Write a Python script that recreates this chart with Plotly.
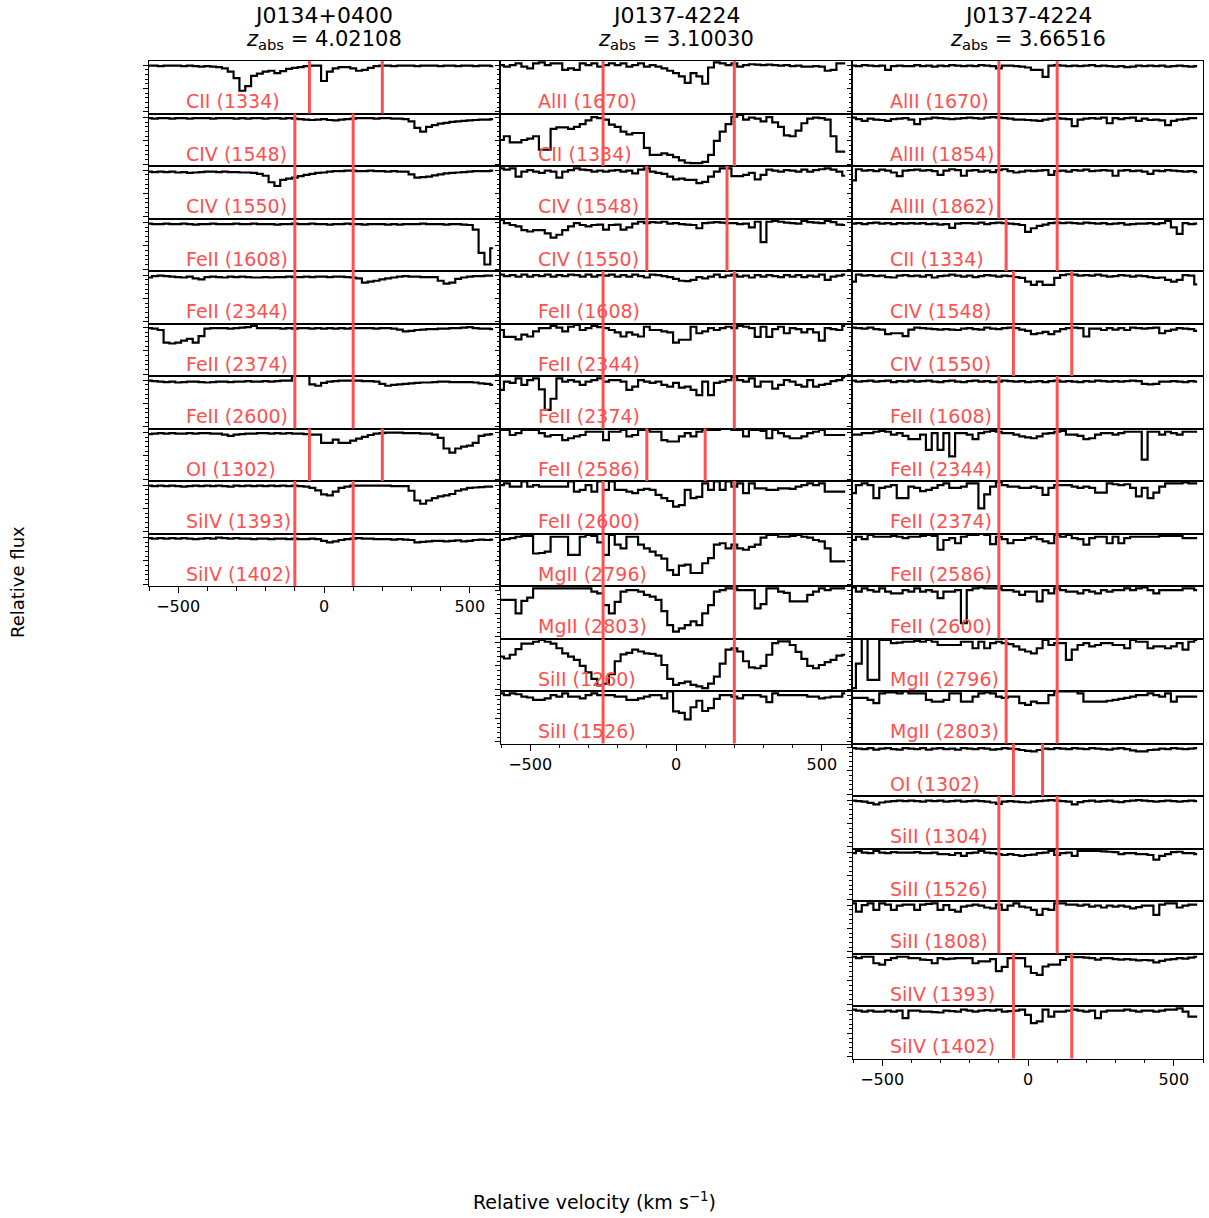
import numpy as np
import plotly.graph_objects as go

# Velocity grid of the rebinned spectra: bin centres in km/s
V_START = -600
V_STEP = 20
N_PIX = 60
velocity = V_START + V_STEP * np.arange(N_PIX)

# ---------------------------------------------------------------- J0134+0400
J0134_NAME = "J0134+0400"
J0134_Z = "4.02108"
J0134_LINES = ["CII (1334)", "CIV (1548)", "CIV (1550)", "FeII (1608)", "FeII (2344)",
               "FeII (2374)", "FeII (2600)", "OI (1302)", "SiIV (1393)", "SiIV (1402)"]
J0134_VLIM = [(-50, 200), (-100, 100), (-100, 100), (-100, 100), (-100, 100),
              (-100, 100), (-100, 100), (-50, 200), (-100, 100), (-100, 100)]
# normalised flux in percent
J0134_FLUX = [
    [99,99,98,99,99,99,98,99,98,97, 98,97,96,93,86,72,45,55,77,82, 86,88,83,87,92,94,96,98,99,99,
     66,86,93,96,96,93,88,90,94,98, 99,99,98,99,99,99,98,99,99,99, 98,99,99,98,99,99,98,99,99,98],
    [99,98,99,99,98,99,99,98,99,99, 99,98,99,99,99,98,99,98,99,99, 98,99,99,98,99,98,97,96,95,96,
     97,95,94,96,97,98,99,99,99,98, 99,99,98,98,97,92,78,70,80,84, 87,89,91,92,93,94,95,96,96,97],
    [97,96,97,96,97,95,96,94,95,96, 97,97,96,97,96,96,95,95,94,92, 88,74,66,79,82,84,87,90,92,94,
     95,97,98,98,99,99,98,98,99,98, 98,97,98,97,97,91,84,85,86,89, 91,93,94,95,96,97,98,98,98,99],
    [98,97,97,98,97,97,98,97,96,97, 97,98,97,97,97,98,97,97,98,97, 97,97,96,97,97,98,97,97,98,97,
     97,96,97,97,98,97,97,96,97,97, 97,96,97,96,97,97,97,98,97,97, 97,96,97,97,96,95,85,35,10,45],
    [95,98,99,98,97,96,95,97,93,91, 96,97,96,95,97,96,97,96,95,95, 96,95,96,96,97,96,96,97,96,97,
     97,96,97,97,96,95,93,84,86,88, 91,93,95,97,98,97,97,96,96,96, 88,82,84,92,95,97,98,98,99,99],
    [99,98,95,68,66,68,72,76,68,82, 98,99,99,99,98,99,100,101,104,99, 99,99,99,98,99,98,99,99,98,99,
     98,99,98,99,98,99,99,99,99,98, 99,99,98,96,92,93,95,96,97,97, 98,98,99,99,100,101,99,98,98,97],
    [99,98,97,96,97,95,96,97,97,96, 95,96,97,97,96,97,97,98,97,97, 98,97,98,99,99,115,120,120,91,88,
     94,97,98,99,99,99,99,98,98,97, 92,88,90,91,92,93,94,95,95,96, 97,97,96,96,96,96,95,93,92,90],
    [97,98,99,98,99,98,98,99,98,99, 99,98,98,96,93,96,97,98,98,99, 99,98,99,98,99,98,98,97,96,96,
     78,78,85,78,78,83,87,91,95,98, 99,100,100,100,99,99,99,98,98,96, 89,66,57,66,70,72,78,93,96,97],
    [99,98,99,98,99,98,97,98,99,98, 99,98,99,98,97,99,98,99,98,99, 98,99,98,99,98,99,98,97,94,89,
     80,78,86,94,97,99,99,99,99,99, 99,99,98,98,98,88,67,60,67,72, 76,78,81,88,91,94,95,96,97,97],
    [99,98,99,98,99,98,99,98,97,98, 99,98,100,99,98,99,98,98,97,98, 98,97,98,98,97,98,97,97,98,97,
     93,90,92,95,97,98,99,98,98,97, 97,97,96,97,96,95,90,91,92,93, 93,92,93,94,92,93,95,96,95,96],
]

# ---------------------------------------------------------------- J0137-4224, z = 3.10030
J0137A_NAME = "J0137-4224"
J0137A_Z = "3.10030"
J0137A_LINES = ["AlII (1670)", "CII (1334)", "CIV (1548)", "CIV (1550)", "FeII (1608)",
                "FeII (2344)", "FeII (2374)", "FeII (2586)", "FeII (2600)", "MgII (2796)",
                "MgII (2803)", "SiII (1260)", "SiII (1526)"]
J0137A_VLIM = [(-250, 200), (-250, 200), (-100, 175), (-100, 175), (-250, 200),
               (-250, 200), (-250, 200), (-100, 100), (-250, 200), (-250, 200),
               (-250, 200), (-250, 200), (-250, 200)]
J0137A_FLUX = [
    [100,97,100,104,97,93,104,106,100,104, 104,90,93,90,104,100,104,97,100,104, 100,104,97,100,104,97,100,97,93,88,
     83,76,62,83,76,60,95,106,104,100, 104,97,100,102,101,100,101,100,99,100, 98,99,97,97,98,97,88,90,104,104],
    [52,60,47,47,52,55,60,31,31,76, 79,79,76,80,86,94,101,99,96,85, 80,70,64,67,67,35,20,20,23,20,
     15,8,3,2,2,5,20,50,70,86, 102,106,96,100,98,92,101,90,80,62, 60,72,88,98,100,99,96,60,27,27],
    [104,101,104,86,97,100,97,94,99,97, 84,97,100,104,101,100,97,99,97,99, 100,97,99,93,101,104,97,94,92,86,
     80,82,79,79,72,75,86,97,104,104, 87,87,90,94,80,90,101,99,97,100, 99,97,101,97,100,102,104,101,97,88],
    [106,99,95,92,84,81,84,84,77,68, 74,84,92,99,95,92,95,96,85,95, 96,85,90,98,102,99,101,100,102,98,
     99,97,96,95,88,99,100,101,100,99, 99,97,98,90,102,58,102,104,102,100, 99,98,104,101,100,99,104,101,96,95],
    [101,98,100,97,101,97,100,98,101,97, 100,98,101,100,97,101,97,100,99,101, 97,100,97,101,98,95,101,100,98,96,
     92,88,87,90,96,93,97,101,96,99, 101,97,99,95,100,97,100,98,96,100, 97,100,96,99,97,101,90,97,99,101],
    [95,80,80,75,85,81,92,99,99,104, 100,92,102,106,95,99,104,101,99,95, 90,81,90,85,81,102,95,95,92,90,
     68,74,74,102,88,92,99,95,99,102, 99,104,102,99,80,102,80,97,102,88, 99,97,90,97,90,72,99,97,95,104],
    [79,97,94,104,90,100,104,80,36,60, 104,97,100,97,90,97,100,104,97,100, 100,97,79,86,100,97,94,97,90,86,
     94,84,86,79,68,97,68,94,97,100, 108,100,97,104,86,97,97,82,90,100, 97,90,86,100,86,90,92,98,100,106],
    [106,106,95,99,106,106,106,99,92,95, 95,84,88,92,95,102,102,102,84,102, 102,106,92,95,106,106,102,102,84,81,
     81,92,99,92,102,106,106,106,108,108, 106,106,92,106,106,104,88,106,99,92, 88,88,92,99,102,106,95,95,95,95],
    [100,104,97,97,108,97,100,97,97,97, 97,97,108,86,90,100,86,108,90,108, 90,90,86,83,90,92,90,79,72,66,
     54,57,90,72,75,104,90,108,90,108, 97,104,83,104,93,93,90,90,93,93, 92,97,100,104,100,104,86,86,86,86],
    [95,97,99,102,104,104,66,67,70,102, 102,102,63,63,102,106,104,90,63,106, 85,77,102,102,85,77,70,62,55,30,
     20,40,42,24,24,45,56,85,88,77, 85,77,74,80,85,100,106,106,102,102, 104,106,102,100,95,92,77,49,49,49],
    [79,79,79,50,77,84,104,104,104,104, 104,104,104,104,104,104,97,93,68,50, 75,97,100,100,97,90,86,79,55,25,
     11,18,25,33,25,50,68,97,100,104, 104,100,100,100,61,70,104,104,97,94, 76,76,76,90,97,104,100,104,104,104],
    [70,66,74,86,98,98,102,106,102,98, 88,77,70,63,50,36,22,8,12,32, 60,75,78,85,81,77,76,72,52,22,
     9,13,16,9,6,2,12,27,55,85, 88,81,60,47,45,50,74,99,103,103, 95,80,65,50,45,52,58,63,72,74],
    [104,100,104,102,97,95,90,90,93,100, 97,104,97,97,93,100,104,100,100,100, 97,97,90,90,93,97,100,100,93,108,
     65,62,48,74,88,66,72,92,100,100, 97,93,100,100,100,97,85,104,100,100, 100,100,100,97,97,93,95,97,97,104],
]

# ---------------------------------------------------------------- J0137-4224, z = 3.66516
J0137B_NAME = "J0137-4224"
J0137B_Z = "3.66516"
J0137B_LINES = ["AlII (1670)", "AlIII (1854)", "AlIII (1862)", "CII (1334)", "CIV (1548)",
                "CIV (1550)", "FeII (1608)", "FeII (2344)", "FeII (2374)", "FeII (2586)",
                "FeII (2600)", "MgII (2796)", "MgII (2803)", "OI (1302)", "SiII (1304)",
                "SiII (1526)", "SiII (1808)", "SiIV (1393)", "SiIV (1402)"]
J0137B_VLIM = [(-100, 100), (-100, 100), (-100, 100), (-75, 100), (-50, 150),
               (-50, 150), (-100, 100), (-100, 100), (-100, 100), (-100, 100),
               (-100, 100), (-75, 100), (-75, 100), (-50, 50), (-100, 100),
               (-100, 100), (-100, 100), (-50, 150), (-50, 150)]
J0137B_FLUX = [
    [99,98,100,99,98,99,90,98,99,98, 98,100,98,99,97,99,98,100,99,98, 99,98,100,99,98,93,99,99,98,97,
     95,90,90,75,99,100,99,98,99,98, 99,100,98,99,98,97,98,96,97,99, 98,99,98,99,97,98,99,98,97,98],
    [100,97,93,98,96,95,93,97,98,99, 96,86,97,98,100,99,98,97,98,99, 100,99,98,100,101,100,99,98,96,96,
     95,94,93,96,98,99,98,97,82,96, 98,99,98,100,88,99,97,99,100,93, 98,95,96,94,84,93,96,97,99,99],
    [78,102,99,100,98,101,99,95,87,99, 100,101,99,100,98,90,99,102,100,88, 99,100,97,99,96,100,102,98,95,97,
     99,98,99,100,90,98,99,97,100,99, 101,98,99,100,99,88,99,100,98,99, 97,92,99,98,100,99,98,97,98,96],
    [98,99,97,99,100,98,99,97,99,98, 99,98,99,97,98,96,97,89,98,99, 99,98,100,97,99,100,99,98,97,95,
     80,88,93,96,99,100,99,100,99,98, 100,99,98,99,97,98,99,96,97,98, 98,99,97,99,104,90,76,99,97,98],
    [86,101,99,100,98,99,96,95,99,100, 98,99,97,100,95,98,99,101,99,97, 99,96,98,100,99,97,99,98,96,94,
     86,79,86,79,79,94,100,102,101,99, 100,99,101,99,97,98,100,99,97,99, 98,96,94,95,90,86,90,100,99,80],
    [100,99,98,100,97,96,86,88,88,82, 96,100,99,98,97,96,97,96,95,98, 99,97,96,100,98,97,99,100,99,96,
     93,86,88,91,86,92,97,99,100,99, 81,98,98,95,99,96,99,95,100,99, 98,99,100,88,93,96,99,98,97,93],
    [99,97,98,99,97,98,99,96,98,97, 99,97,98,99,97,96,98,99,97,96, 98,99,97,98,96,97,99,98,97,98,
     96,97,98,96,98,99,97,98,97,96, 98,97,99,98,97,98,97,98,99,98, 92,91,92,97,97,98,97,96,98,97],
    [96,96,99,99,102,104,102,96,99,93, 86,86,96,63,99,63,99,49,99,99, 96,86,99,102,104,102,99,99,96,92,
     90,88,92,98,99,102,104,96,96,93, 86,88,96,99,99,96,99,102,102,102, 42,102,102,96,102,99,96,102,102,102],
    [83,100,104,100,72,94,97,100,72,72, 97,94,87,90,94,100,104,94,94,97, 104,104,50,80,97,107,100,97,97,94,
     94,97,94,79,94,100,100,100,97,94, 97,94,84,84,104,102,100,102,94,76, 94,72,84,97,104,104,104,106,104,104],
    [95,102,97,106,102,102,102,104,102,99, 102,102,104,106,104,74,95,99,88,102, 106,106,108,106,86,102,97,88,95,95,
     99,102,97,92,88,106,102,106,99,97, 85,99,102,102,88,102,88,99,102,102, 102,102,102,104,104,104,104,99,99,99],
    [106,97,104,100,97,104,97,93,93,100, 97,104,97,100,97,83,97,97,100,29, 100,104,106,104,104,104,100,100,97,90,
     97,97,76,100,93,104,100,97,97,93, 100,97,93,100,97,100,100,104,100,104, 106,100,93,100,100,100,100,104,104,100],
    [2,55,108,20,20,106,106,99,100,102, 102,104,102,106,102,95,95,95,95,102, 102,88,102,88,99,102,99,97,92,85,
     81,77,88,106,95,99,99,63,85,95, 99,92,95,99,99,95,95,88,106,102, 102,88,92,92,88,92,99,85,102,106],
    [94,94,94,90,83,104,106,106,104,108, 104,104,104,90,86,86,90,104,104,86, 86,97,104,106,104,97,94,97,97,83,
     79,86,83,83,100,108,108,108,108,104, 86,86,86,86,88,90,92,94,97,100, 100,104,100,97,104,86,97,97,97,97],
    [99,98,97,99,96,98,99,97,96,99, 98,97,99,96,98,99,97,98,96,99, 98,97,99,98,96,97,99,98,97,95,
     93,92,95,98,97,99,98,97,99,98, 97,99,98,97,96,98,99,97,94,92, 92,95,96,98,97,99,98,97,98,99],
    [99,98,97,94,91,95,97,98,99,98, 99,98,97,99,98,99,97,98,99,97, 98,99,98,97,95,92,97,98,97,96,
     95,97,98,99,100,99,98,97,91,96, 98,99,97,98,99,97,96,98,99,100, 99,98,97,98,99,98,97,98,99,98],
    [99,104,100,99,104,100,99,101,100,100, 100,101,99,99,100,97,97,95,99,93, 99,100,104,100,99,97,95,97,95,93,
     95,96,99,100,104,95,99,100,93,104, 104,104,104,103,102,101,97,99,99,97, 97,95,85,93,97,101,102,99,99,97],
    [104,86,100,104,90,104,101,90,99,101, 101,90,101,103,104,90,100,90,86,97, 99,101,99,95,93,101,90,99,104,97,
     95,90,79,92,90,104,104,101,101,99, 101,97,99,95,99,97,99,97,93,96, 99,99,79,101,104,104,95,99,101,101],
    [102,99,102,102,88,85,95,99,102,102, 99,99,96,95,88,99,97,98,99,99, 99,88,92,92,97,71,80,99,99,99,
     81,67,63,81,85,85,95,102,101,101, 100,99,96,99,99,97,96,97,96,94, 95,94,90,93,96,97,99,98,100,102],
    [101,99,97,99,97,97,99,97,99,83, 99,99,97,97,96,95,99,98,97,101, 99,97,99,100,99,101,97,98,99,101,
     90,72,76,101,86,97,97,99,101,99, 97,99,83,97,99,99,99,101,99,97, 99,99,97,99,101,101,104,97,86,86],
]

COLUMNS = [
    (J0134_NAME, J0134_Z, J0134_LINES, J0134_VLIM, J0134_FLUX),
    (J0137A_NAME, J0137A_Z, J0137A_LINES, J0137A_VLIM, J0137A_FLUX),
    (J0137B_NAME, J0137B_Z, J0137B_LINES, J0137B_VLIM, J0137B_FLUX),
]

X_TICKS = [-500, 0, 500]
X_MINOR = [-600, -400, -300, -200, -100, 100, 200, 300, 400, 600]

# ---------------------------------------------------------------- page geometry (px)
W, H = 1209, 1218
COL_LEFT = [149, 501, 853]
COL_W = 350
ROW_TOP = 61
ROW_H = 52.5
RED = "#ff5050"
FONT = "DejaVu Sans"

fig = go.Figure()
layout = {}
shapes = []
annotations = []

n = 0
for c, (name, zabs, lines, vlims, fluxes) in enumerate(COLUMNS):
    nrows = len(lines)
    xl = COL_LEFT[c] / W
    xr = (COL_LEFT[c] + COL_W) / W
    for r in range(nrows):
        n += 1
        xa = "x" if n == 1 else f"x{n}"
        ya = "y" if n == 1 else f"y{n}"
        key = "" if n == 1 else str(n)
        top = ROW_TOP + ROW_H * r
        bot = top + ROW_H
        bottom_panel = r == nrows - 1

        layout[f"xaxis{key}"] = dict(
            domain=[xl, xr], anchor=ya, range=[-600, 600],
            showline=True, mirror=True, linecolor="black", linewidth=1,
            showgrid=False, zeroline=False,
            tickmode="array", tickvals=X_TICKS,
            ticks="outside" if bottom_panel else "",
            ticklen=6, tickwidth=1, tickcolor="black",
            showticklabels=bottom_panel,
            tickfont=dict(size=16, color="black", family=FONT),
            minor=dict(tickmode="array", tickvals=X_MINOR,
                       ticks="outside" if bottom_panel else "",
                       ticklen=3.5, tickwidth=1, tickcolor="black"),
        )
        layout[f"yaxis{key}"] = dict(
            domain=[1 - bot / H, 1 - top / H], anchor=xa, range=[-0.04, 1.09],
            showline=True, mirror=True, linecolor="black", linewidth=1,
            showgrid=False, zeroline=False,
            tick0=0, dtick=0.5, ticks="outside", ticklen=5, tickwidth=1,
            tickcolor="black", showticklabels=False,
            minor=dict(tick0=0, dtick=0.1, ticks="outside", ticklen=3,
                       tickwidth=1, tickcolor="black"),
        )

        fig.add_trace(go.Scatter(
            x=velocity, y=np.array(fluxes[r]) / 100.0,
            xaxis=xa, yaxis=ya, mode="lines",
            line=dict(color="black", width=2.2, shape="hvh"),
            hoverinfo="skip", showlegend=False,
        ))

        for v in vlims[r]:
            shapes.append(dict(type="line", xref=xa, yref=f"{ya} domain",
                               x0=v, x1=v, y0=0, y1=1, layer="above",
                               line=dict(color=RED, width=3)))

        annotations.append(dict(
            text=lines[r], xref=f"{xa} domain", yref=f"{ya} domain",
            x=0.1, y=0.23, xanchor="left", yanchor="middle", showarrow=False,
            font=dict(size=19, color=RED, family=FONT),
        ))

    xc = (COL_LEFT[c] + COL_W / 2) / W
    annotations.append(dict(text=name, xref="paper", yref="paper", x=xc, y=1 - 15 / H,
                            xanchor="center", yanchor="middle", showarrow=False,
                            font=dict(size=22, color="black", family=FONT)))
    annotations.append(dict(text=f"<i>z</i><sub>abs</sub> = {zabs}", xref="paper", yref="paper",
                            x=xc, y=1 - 40 / H, xanchor="center", yanchor="middle",
                            showarrow=False, font=dict(size=21, color="black", family=FONT)))

annotations.append(dict(text="Relative flux", xref="paper", yref="paper",
                        x=17 / W, y=1 - 582 / H, textangle=-90, showarrow=False,
                        xanchor="center", yanchor="middle",
                        font=dict(size=18, color="black", family=FONT)))
annotations.append(dict(text="Relative velocity (km s<sup>−1</sup>)", xref="paper", yref="paper",
                        x=594 / W, y=1 - 1201 / H, showarrow=False,
                        xanchor="center", yanchor="middle",
                        font=dict(size=19, color="black", family=FONT)))

fig.update_layout(
    width=W, height=H, margin=dict(l=0, r=0, t=0, b=0),
    paper_bgcolor="white", plot_bgcolor="white",
    font=dict(family=FONT, color="black"),
    showlegend=False, shapes=shapes, annotations=annotations,
    **layout,
)

fig.write_html("out.html")
